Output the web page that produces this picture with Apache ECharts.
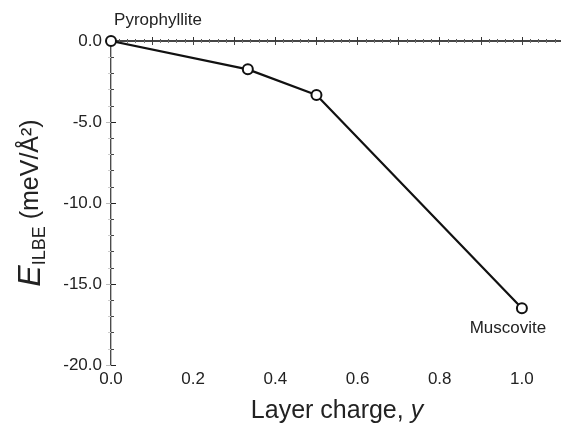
<!DOCTYPE html>
<html>
<head>
<meta charset="utf-8">
<script src="https://cdn.jsdelivr.net/npm/echarts@6/dist/echarts.min.js"></script>
<style>
  html, body { margin: 0; padding: 0; background: #fff; }
  #chart { width: 561px; height: 426px; }
</style>
</head>
<body>
<div id="chart"></div>
<script>
// layer charge y and interlayer binding energy (meV/Å²)
const layerCharge = [0.0, 0.333, 0.5, 1.0]
const energy = [0.0, -1.75, -3.33, -16.5]
const pointNames = ['Pyrophyllite', '', '', 'Muscovite']

const FONT = 'Liberation Sans, Arial, Helvetica, sans-serif'
const TXT = '#222'

const fmtX = (v) => (Math.round(v * 10) % 2 === 0 ? v.toFixed(1) : '')

const chart = echarts.init(document.getElementById('chart'), null, { renderer: 'canvas' })

const option = {
  backgroundColor: '#fff',
  animation: false,
  grid: { left: 111, top: 41, width: 452, height: 324, outerBoundsMode: 'none', containLabel: false },
  xAxis: [
    {
      type: 'value',
      min: 0,
      max: 1.1,
      interval: 0.1,
      name: 'Layer charge, {i|y}',
      nameLocation: 'middle',
      nameGap: 34,
      nameTextStyle: {
        fontFamily: FONT,
        fontSize: 25,
        color: TXT,
        rich: { i: { fontFamily: FONT, fontSize: 25, fontStyle: 'italic', color: TXT } }
      },
      axisLine: { lineStyle: { color: '#111', width: 1.5 } },
      axisTick: { inside: true, length: 4, lineStyle: { color: '#333' } },
      minorTick: { show: true, splitNumber: 5, length: 2, lineStyle: { color: '#555' } },
      splitLine: { show: false },
      axisLabel: {
        formatter: fmtX,
        fontFamily: FONT,
        fontSize: 17,
        color: TXT,
        margin: 6
      }
    },
    {
      type: 'value',
      position: 'top',
      min: 0,
      max: 1.1,
      interval: 0.1,
      axisLine: { lineStyle: { color: '#444', width: 1.5 } },
      axisTick: { inside: true, length: 4, lineStyle: { color: '#444' } },
      minorTick: { show: true, splitNumber: 5, length: 2, lineStyle: { color: '#777' } },
      splitLine: { show: false },
      axisLabel: { show: false }
    }
  ],
  yAxis: [
    {
      type: 'value',
      min: -20,
      max: 0,
      interval: 5,
      name: '{e|E}{s|ILBE}{n| (meV/Å²)}',
      nameLocation: 'middle',
      nameRotate: 90,
      nameGap: 62,
      nameTextStyle: {
        color: TXT,
        rich: {
          e: { fontFamily: FONT, fontSize: 32, fontStyle: 'italic', color: TXT, lineHeight: 36 },
          s: { fontFamily: FONT, fontSize: 18, color: TXT, verticalAlign: 'bottom', lineHeight: 36, padding: [12, 0, 0, 0] },
          n: { fontFamily: FONT, fontSize: 25, color: TXT, lineHeight: 36 }
        }
      },
      axisLine: { show: true, lineStyle: { color: '#111', width: 1.5 } },
      axisTick: { show: true, inside: true, length: 5, lineStyle: { color: '#222' } },
      minorTick: { show: true, splitNumber: 5, length: 3, lineStyle: { color: '#444' } },
      splitLine: { show: false },
      axisLabel: {
        formatter: (v) => v.toFixed(1),
        fontFamily: FONT,
        fontSize: 17,
        color: TXT,
        margin: 9
      }
    },
    {
      type: 'value',
      position: 'right',
      min: -20,
      max: 0,
      interval: 5,
      axisLine: { show: true, lineStyle: { color: '#bbb', width: 1 } },
      axisTick: { show: true, inside: true, length: 5, lineStyle: { color: '#bbb' } },
      minorTick: { show: true, splitNumber: 5, length: 3, lineStyle: { color: '#ccc' } },
      splitLine: { show: false },
      axisLabel: { show: false }
    }
  ],
  series: [
    {
      type: 'line',
      xAxisIndex: 0,
      yAxisIndex: 0,
      data: layerCharge.map((x, i) => {
        const item = { value: [x, energy[i]], name: pointNames[i] }
        if (i === 0) {
          item.label = { show: true, position: 'top', distance: 6, offset: [47, 0] }
        } else if (i === layerCharge.length - 1) {
          item.label = { show: true, position: 'bottom', distance: 6, offset: [-14, 0] }
        }
        return item
      }),
      symbol: 'emptyCircle',
      symbolSize: 10,
      showAllSymbol: true,
      lineStyle: { color: '#111', width: 2.2 },
      itemStyle: { color: '#111', borderColor: '#111', borderWidth: 2.5 },
      label: {
        show: false,
        formatter: (p) => p.name,
        fontFamily: FONT,
        fontSize: 17,
        color: TXT
      },
      z: 5
    }
  ]
}

chart.setOption(option)
</script>
</body>
</html>
